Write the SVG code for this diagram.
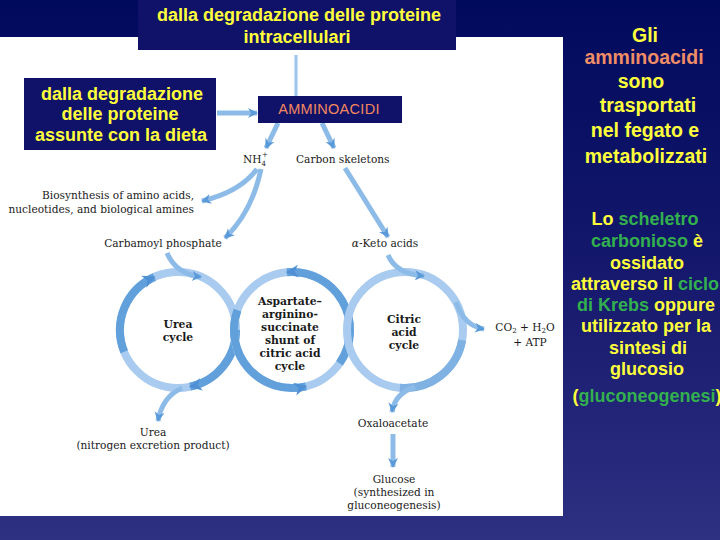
<svg xmlns="http://www.w3.org/2000/svg" width="720" height="540" viewBox="0 0 720 540">
<defs>
<linearGradient id="bg" x1="0" y1="0" x2="0" y2="1">
<stop offset="0" stop-color="#000a5c"/>
<stop offset="0.5" stop-color="#15186c"/>
<stop offset="1" stop-color="#2e3082"/>
</linearGradient>
<marker id="ah" viewBox="0 0 10 10" refX="9" refY="5" markerWidth="10" markerHeight="11" markerUnits="userSpaceOnUse" orient="auto">
<path d="M0,0 L10,5 L0,10 L3,5 z" fill="#5b9ad8"/>
</marker>
<marker id="ahc" viewBox="0 0 10 10" refX="9" refY="5" markerWidth="13" markerHeight="15" markerUnits="userSpaceOnUse" orient="auto">
<path d="M0,0 L10,5 L0,10 L3,5 z" fill="#4f90d4"/>
</marker>
</defs>
<style>
.ser{font-family:"DejaVu Serif","Liberation Serif",serif;font-size:10.6px;fill:#1a1a1a}
.serb{font-family:"DejaVu Serif","Liberation Serif",serif;font-size:10.8px;font-weight:bold;fill:#1a1a1a}
.ban{font-family:"Liberation Sans",Arial,sans-serif;font-weight:bold;font-size:18px;fill:#ffff3c}
.side{font-family:"Liberation Sans",Arial,sans-serif;font-weight:bold;fill:#ffff3c}
.g{fill:#33b04e}
.box{fill:#0f1268}
.ring{fill:none;stroke:#a9cbef;stroke-width:8}
.ringd{fill:none;stroke:#62a0dc;stroke-width:8}
.arr{fill:none;stroke:#8dbbe8;stroke-width:5;marker-end:url(#ah)}
</style>
<rect width="720" height="540" fill="url(#bg)"/>
<rect x="0" y="37" width="563" height="479" fill="#ffffff"/>

<g id="urea-cycle">
<circle class="ring" cx="178" cy="330" r="58"/>
<path class="ringd" d="M124.2,351.7 A58,58 0 0 1 154.4,277" marker-end="url(#ahc)"/>
<path class="ringd" d="M236,330 A58,58 0 0 1 190.1,386.7" marker-end="url(#ahc)"/>
<text class="serb" text-anchor="middle"><tspan x="178" y="328">Urea</tspan><tspan x="178" y="341">cycle</tspan></text>
</g>
<g id="shunt">
<circle class="ring" cx="292" cy="330" r="58"/>
<path class="ringd" d="M339.5,363.3 A58,58 0 0 0 286.9,272.2" marker-end="url(#ahc)"/>
<path class="ringd" d="M237.5,310.2 A58,58 0 0 0 306,386.3" marker-end="url(#ahc)"/>
<text class="serb" text-anchor="middle"><tspan x="290" y="305">Aspartate–</tspan><tspan x="290" y="318">arginino-</tspan><tspan x="290" y="331">succinate</tspan><tspan x="290" y="344">shunt of</tspan><tspan x="290" y="357">citric acid</tspan><tspan x="290" y="370">cycle</tspan></text>
</g>
<g id="citric-cycle">
<circle class="ring" cx="405" cy="330" r="58"/>
<path d="M462.1,340.1 A58,58 0 0 1 399.9,387.8" fill="none" stroke="#7fb1e3" stroke-width="8"/>
<text class="serb" text-anchor="middle"><tspan x="404" y="323">Citric</tspan><tspan x="404" y="336">acid</tspan><tspan x="404" y="349">cycle</tspan></text>
</g>

<g id="connectors">
<path d="M296,96 L296,55" fill="none" stroke="#9cc4ec" stroke-width="3"/>
<path class="arr" d="M217,113 L257,113"/>
<path class="arr" d="M278,123 L266,148"/>
<path class="arr" d="M322,123 L334,148"/>
<path class="arr" d="M257,169 Q240,192 202,201"/>
<path class="arr" d="M261,169 Q252,212 225,238"/>
<path class="arr" d="M345,168 L388,237"/>
<path class="arr" d="M167,253 Q176,274 201,277"/>
<path class="arr" d="M388,255 Q396,274 424,276"/>
<path class="arr" d="M456,302 Q464,326 484,329"/>
<path class="arr" d="M415,387 Q395,393 392,412"/>
<path class="arr" d="M182,388 Q162,397 158,421"/>
<path class="arr" d="M393,434 L393,467"/>
</g>

<g id="top-box">
<rect class="box" x="138" y="0" width="318" height="50"/>
<text class="ban" text-anchor="middle"><tspan x="299" y="21">dalla degradazione delle proteine</tspan><tspan x="297" y="43">intracellulari</tspan></text>
</g>
<g id="diet-box">
<rect class="box" x="24" y="78" width="192" height="72"/>
<text class="ban" text-anchor="middle"><tspan x="122" y="100">dalla degradazione</tspan><tspan x="120" y="120">delle proteine</tspan><tspan x="121" y="141">assunte con la dieta</tspan></text>
</g>
<g id="amminoacidi">
<rect class="box" x="258" y="96" width="144" height="27"/>
<text x="329" y="114" text-anchor="middle" font-family="Liberation Sans, Arial, sans-serif" font-size="14.5" fill="#f4875f" letter-spacing="0.3">AMMINOACIDI</text>
</g>
<g id="nh4">
<text class="ser" x="243" y="163">NH<tspan font-size="7" dy="3">4</tspan><tspan font-size="7" dx="-4" dy="-9">+</tspan></text>
</g>
<g id="carbon-skeletons"><text class="ser" x="296" y="163">Carbon skeletons</text></g>
<g id="biosynthesis"><text class="ser" text-anchor="end"><tspan x="194" y="199">Biosynthesis of amino acids,</tspan><tspan x="194" y="213">nucleotides, and biological amines</tspan></text></g>
<g id="carbamoyl"><text class="ser" x="163" y="247" text-anchor="middle">Carbamoyl phosphate</text></g>
<g id="keto"><text class="ser" x="385" y="247" text-anchor="middle"><tspan font-style="italic">α</tspan>-Keto acids</text></g>
<g id="co2">
<text class="ser" x="525" y="331" text-anchor="middle">CO<tspan font-size="7" dy="2">2</tspan><tspan dy="-2"> + H</tspan><tspan font-size="7" dy="2">2</tspan><tspan dy="-2">O</tspan></text>
<text class="ser" x="530" y="346" text-anchor="middle">+ ATP</text>
</g>
<g id="oxaloacetate"><text class="ser" x="393" y="427" text-anchor="middle">Oxaloacetate</text></g>
<g id="urea"><text class="ser" text-anchor="middle"><tspan x="153" y="436">Urea</tspan><tspan x="153" y="449">(nitrogen excretion product)</tspan></text></g>
<g id="glucose"><text class="ser" text-anchor="middle"><tspan x="394" y="483">Glucose</tspan><tspan x="394" y="496">(synthesized in</tspan><tspan x="394" y="509">gluconeogenesis)</tspan></text></g>

<g id="note-top">
<text class="side" font-size="19.5" text-anchor="middle"><tspan x="645" y="42">Gli</tspan><tspan x="644" y="64" fill="#f08c66">amminoacidi</tspan><tspan x="641" y="88">sono</tspan><tspan x="648" y="112">trasportati</tspan><tspan x="645" y="137">nel fegato e</tspan><tspan x="646" y="163">metabolizzati</tspan></text>
</g>
<g id="note-bottom">
<text class="side" font-size="18" text-anchor="middle"><tspan x="645" y="225">Lo <tspan class="g">scheletro</tspan></tspan><tspan x="647" y="247"><tspan class="g">carbonioso</tspan> è</tspan><tspan x="647" y="269">ossidato</tspan><tspan x="645" y="290">attraverso il <tspan class="g">ciclo</tspan></tspan><tspan x="646" y="311"><tspan class="g">di Krebs</tspan> oppure</tspan><tspan x="646" y="332">utilizzato per la</tspan><tspan x="648" y="354">sintesi di</tspan><tspan x="647" y="375">glucosio</tspan><tspan x="647" y="402">(<tspan class="g">gluconeogenesi</tspan>)</tspan></text>
</g>
</svg>
